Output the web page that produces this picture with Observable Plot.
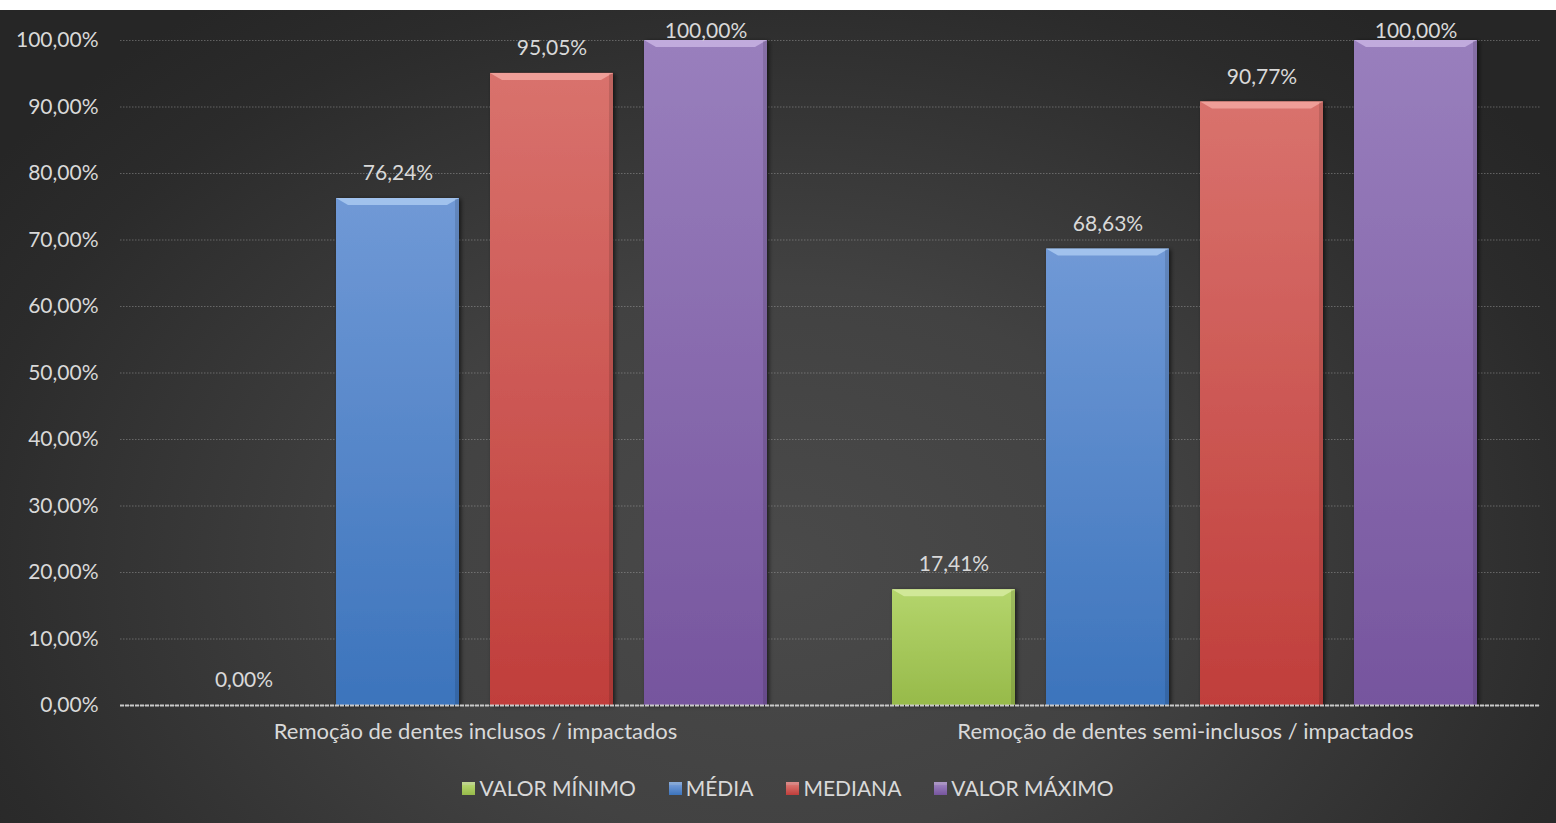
<!DOCTYPE html>
<html>
<head>
<meta charset="utf-8">
<script src="https://cdn.jsdelivr.net/npm/d3@7"></script>
<script src="https://cdn.jsdelivr.net/npm/@observablehq/plot@0.6"></script>
<style>
  html, body { margin: 0; padding: 0; background: #ffffff; }
  #chart {
    position: absolute; left: 0; top: 10px; width: 1556px; height: 813px; overflow: hidden;
    background: radial-gradient(ellipse 62% 85% at 50% 68%, #4a4a4a 0%, #424242 40%, #2b2b2b 85%, #262626 100%);
    font-family: Lato, "Open Sans", sans-serif;
  }
  #plot { position: absolute; left: 0; top: 0; }
  #legend {
    position: absolute; left: 10px; top: 765px; width: 1556px;
    display: flex; justify-content: center; gap: 33px;
    color: #d9d9d9; font-size: 21px; line-height: 26px;
  }
  .item { display: flex; align-items: center; gap: 4px; }
  .sw { width: 13px; height: 13px; box-sizing: border-box; border-top: 3px solid rgba(255,255,255,0.35); }
</style>
</head>
<body>
<div id="chart">
  <div id="plot"></div>
  <div id="legend"></div>
</div>
<script>
// ---- data ----
const categories = ["Remoção de dentes inclusos / impactados", "Remoção de dentes semi-inclusos / impactados"];
const series = ["VALOR MÍNIMO", "MÉDIA", "MEDIANA", "VALOR MÁXIMO"];
const valuesInclusos = [0, 76.24, 95.05, 100];
const valuesSemiInclusos = [17.41, 68.63, 90.77, 100];
const yTicks = [0, 10, 20, 30, 40, 50, 60, 70, 80, 90, 100];

// ---- styles ----
const gradTop = ["#b4d56c", "#7099d6", "#d9726d", "#997fbd"];
const gradBottom = ["#97ba4a", "#3c74bc", "#c03e3b", "#76559e"];
const bevelColor = ["#d6eba0", "#a9c9f1", "#f2a6a0", "#c8b3e3"];

const table = [];
[valuesInclusos, valuesSemiInclusos].forEach((vals, ci) => {
  vals.forEach((v, si) => table.push({ cat: categories[ci], series: series[si], value: v, si }));
});

const fmt = v => v.toFixed(2).replace(".", ",") + "%";
const textColor = "#d9d9d9";

const plot = Plot.plot({
  width: 1556,
  height: 755,
  marginTop: 30,
  marginBottom: 60,
  marginLeft: 120,
  marginRight: 16,
  style: { background: "transparent", fontFamily: "Lato, 'Open Sans', sans-serif", overflow: "visible" },
  fx: { domain: categories, padding: 0, label: null },
  x: { domain: series, paddingInner: 0.2, paddingOuter: 0.405, axis: null },
  y: { domain: [0, 100], label: null },
  color: { domain: series, range: series.map((s, i) => `url(#grad${i})`) },
  marks: [
    Plot.gridY({ ticks: yTicks, stroke: "#a8a8a8", strokeOpacity: 0.45, strokeDasharray: "1.5,1.5" }),
    Plot.axisY({ ticks: yTicks, tickFormat: fmt, tickSize: 0, tickPadding: 22, fontSize: 21, fill: textColor, label: null }),
    Plot.axisFx({ anchor: "bottom", tickSize: 0, tickPadding: 18, fontSize: 22, fill: textColor, label: null }),
    Plot.barY(table, { fx: "cat", x: "series", y: "value", fill: "series" }),
    Plot.ruleY([0], { stroke: "#c9c9c9", strokeWidth: 2.2, strokeDasharray: "4,1" }),
    Plot.text(table, { fx: "cat", x: "series", y: d => Math.min(d.value, 97.7), text: d => fmt(d.value), dy: -25, fontSize: 21, fill: textColor })
  ]
});

document.getElementById("plot").appendChild(plot);

// gradients, shadow filter, bevel highlights
const svg = d3.select(plot);
const defs = svg.insert("defs", ":first-child");
series.forEach((s, i) => {
  const g = defs.append("linearGradient").attr("id", `grad${i}`).attr("x1", 0).attr("y1", 0).attr("x2", 0).attr("y2", 1);
  g.append("stop").attr("offset", "0%").attr("stop-color", gradTop[i]);
  g.append("stop").attr("offset", "100%").attr("stop-color", gradBottom[i]);
});
const f = defs.append("filter").attr("id", "shadow").attr("x", "-10%").attr("y", "-10%").attr("width", "125%").attr("height", "125%");
f.append("feDropShadow").attr("dx", 2).attr("dy", 1).attr("stdDeviation", 2).attr("flood-color", "#000").attr("flood-opacity", 0.6);

svg.selectAll("g[aria-label='bar'] rect").each(function () {
  const r = d3.select(this);
  const fill = r.attr("fill") || "";
  const idx = +((fill.match(/grad(\d)/) || [0, 0])[1]);
  const x = +r.attr("x"), y = +r.attr("y"), w = +r.attr("width"), h = +r.attr("height");
  r.attr("filter", "url(#shadow)");
  if (!(h > 2)) { r.attr("filter", null); return; }
  const d = 7, inset = 12;
  d3.select(this.parentNode).append("polygon")
    .attr("points", `${x},${y} ${x + w},${y} ${x + w - inset},${y + d} ${x + inset},${y + d}`)
    .attr("fill", bevelColor[idx]).attr("opacity", 0.85);
  d3.select(this.parentNode).append("rect")
    .attr("x", x + w - 4).attr("y", y + 1).attr("width", 4).attr("height", h - 1)
    .attr("fill", "#000").attr("opacity", 0.12);
});

// legend
const legend = d3.select("#legend");
series.forEach((s, i) => {
  const it = legend.append("div").attr("class", "item");
  it.append("div").attr("class", "sw").style("background", `linear-gradient(${gradTop[i]}, ${gradBottom[i]})`);
  it.append("span").text(s);
});
</script>
</body>
</html>
